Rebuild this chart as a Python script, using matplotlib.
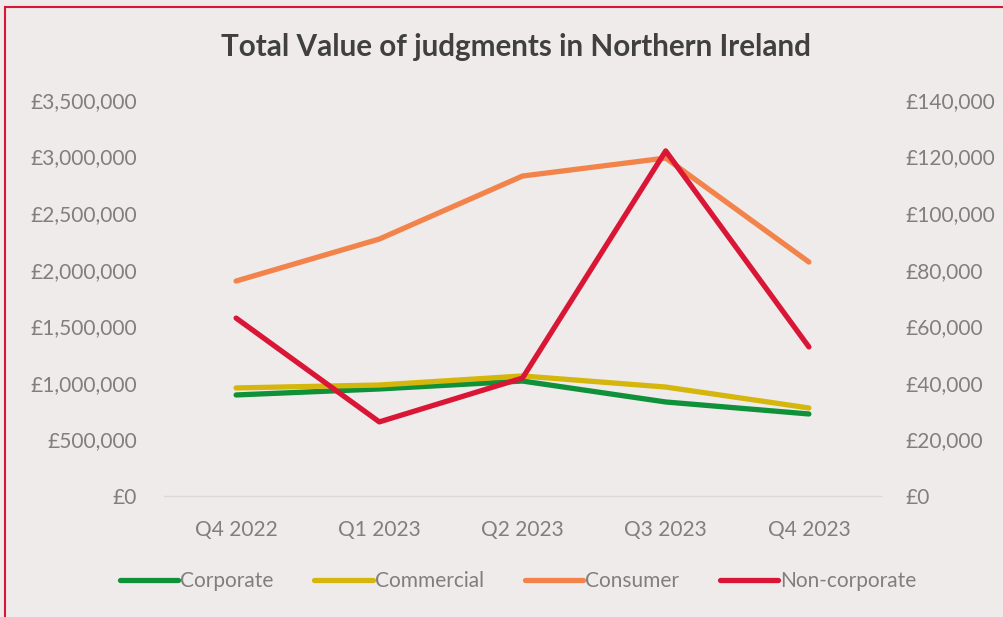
import matplotlib
matplotlib.use("Agg")
import matplotlib.pyplot as plt
from matplotlib.patches import Rectangle
from matplotlib.ticker import FuncFormatter
from matplotlib.lines import Line2D

categories = ["Q4 2022", "Q1 2023", "Q2 2023", "Q3 2023", "Q4 2023"]
corporate = [893000, 946000, 1016000, 831000, 725000]
commercial = [955000, 981000, 1061000, 963000, 778000]
consumer = [1900000, 2271000, 2828000, 2987000, 2068000]
non_corporate = [62900, 26200, 41700, 122000, 52700]

left_ticks = [0, 500000, 1000000, 1500000, 2000000, 2500000, 3000000, 3500000]
right_ticks = [0, 20000, 40000, 60000, 80000, 100000, 120000, 140000]

plt.rcParams['font.family'] = ['Lato', 'DejaVu Sans']

bg = "#EFEBEA"
c_corp = "#0E9138"
c_comm = "#D5B60D"
c_cons = "#F2834A"
c_nonc = "#DA1636"
tick_col = "#7F7F7F"

fig = plt.figure(figsize=(10.04, 6.17), dpi=100, facecolor=bg)
ax = fig.add_axes([164.5/1004, 1-496/617, (880.5-164.5)/1004, (496-100)/617])
ax.set_facecolor(bg)
ax2 = ax.twinx()

x = list(range(len(categories)))
lw = 3.8
ax.plot(x, corporate, color=c_corp, lw=lw, solid_capstyle='round', zorder=3)
ax.plot(x, commercial, color=c_comm, lw=lw, solid_capstyle='round', zorder=3)
ax.plot(x, consumer, color=c_cons, lw=lw, solid_capstyle='round', zorder=3)
ax2.plot(x, non_corporate, color=c_nonc, lw=lw, solid_capstyle='round', zorder=4)

ax.set_xlim(-0.5, 4.5)
ax.set_ylim(0, 3500000)
ax2.set_ylim(0, 140000)
ax.set_yticks(left_ticks)
ax2.set_yticks(right_ticks)
ax.yaxis.set_major_formatter(FuncFormatter(lambda v, p: f"£{int(v):,}"))
ax2.yaxis.set_major_formatter(FuncFormatter(lambda v, p: f"£{int(v):,}"))
ax.set_xticks(x)
ax.set_xticklabels(categories)

fs = 15
for a in (ax, ax2):
    for s in a.spines.values():
        s.set_visible(False)
    a.tick_params(length=0, labelsize=fs, labelcolor=tick_col)
ax.spines['bottom'].set_visible(True)
ax.spines['bottom'].set_color("#D9D9D9")
ax.spines['bottom'].set_linewidth(1)
ax.tick_params(axis='y', pad=20)
ax2.tick_params(axis='y', pad=18)
ax.tick_params(axis='x', pad=17)

fig.text(0.514, 1-47/617, "Total Value of judgments in Northern Ireland",
         ha='center', va='center', fontsize=21.3, fontweight='bold', color="#404040")

handles = [Line2D([0], [0], color=c, lw=lw, solid_capstyle='round') for c in (c_corp, c_comm, c_cons, c_nonc)]
fig.legend(handles, ["Corporate", "Commercial", "Consumer", "Non-corporate"],
           loc='center', bbox_to_anchor=(0.516, 1-581/617), ncol=4, frameon=False,
           fontsize=fs, labelcolor=tick_col, handlelength=2.8, handletextpad=0.1,
           columnspacing=1.95)

fig.patches.append(Rectangle((5/1004, -0.1), 1.2, 1.1 - 7/617, transform=fig.transFigure,
                             fill=False, edgecolor=c_nonc, lw=1.5, zorder=10))

fig.savefig("out.png", dpi=100, facecolor=bg)
